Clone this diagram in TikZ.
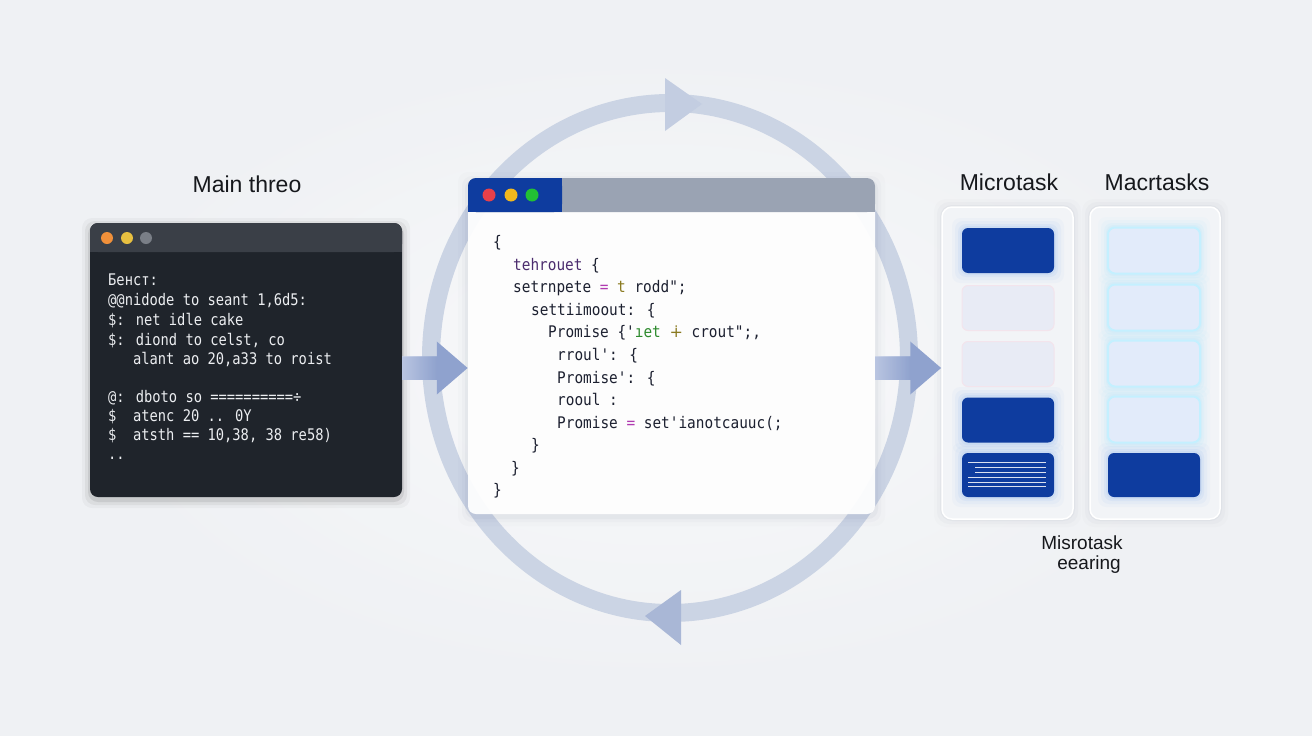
\documentclass[tikz,border=0pt]{standalone}
\usepackage{fontspec}
\setmainfont{Liberation Sans}
\newfontfamily\codefont[FakeStretch=0.9,Ligatures=TeXOff]{DejaVu Sans Mono}
\newfontfamily\termfont[FakeStretch=0.86,Ligatures=TeXOff]{DejaVu Sans Mono}
\newfontfamily\symfont{DejaVu Sans}
\usetikzlibrary{arrows.meta,calc}
\definecolor{bg}{HTML}{EFF1F4}
\definecolor{ringc}{HTML}{CBD4E4}
\definecolor{ringhead}{HTML}{C3CDE1}
\definecolor{ringhead2}{HTML}{A9B7D6}
\definecolor{flowc}{HTML}{8FA2CE}
\definecolor{flowlight}{HTML}{C4CEE6}
\definecolor{termbody}{HTML}{1F242B}
\definecolor{termbar}{HTML}{3A3F47}
\definecolor{termtext}{HTML}{ECEEF1}
\definecolor{dotorange}{HTML}{F0903A}
\definecolor{dotyellow}{HTML}{E8C040}
\definecolor{dotgrey}{HTML}{7A7F87}
\definecolor{dotred}{HTML}{E8404A}
\definecolor{dotyel2}{HTML}{F2B81E}
\definecolor{dotgreen}{HTML}{22C034}
\definecolor{shadowc}{HTML}{5A6A8A}
\definecolor{darkblue}{HTML}{0E3C9F}
\definecolor{wingrey}{HTML}{9AA3B3}
\definecolor{codetext}{HTML}{1C2030}
\definecolor{kw}{HTML}{4B2C6E}
\definecolor{op}{HTML}{B03AB0}
\definecolor{ol}{HTML}{8A7A20}
\definecolor{gr}{HTML}{2E8B2E}
\definecolor{titlec}{HTML}{16181C}
\definecolor{panelc}{HTML}{F2F4F7}
\definecolor{lightitem}{HTML}{E8EBF5}
\definecolor{cyanitem}{HTML}{E2EBFA}
\definecolor{cyanedge}{HTML}{C4F0FF}
\definecolor{glowblue}{HTML}{8DB6F2}
\definecolor{glowcyan}{HTML}{A8E4FF}
\definecolor{pinkedge}{HTML}{F3E4EC}
\newcommand{\myglow}[5]{%
  \foreach \e/\o in {10/0.05,7/0.08,4/0.12,2/0.15}{%
    \fill[#5,opacity=\o,rounded corners=8pt] (#1-\e,#2-\e) rectangle (#3+\e,#4+\e);}}
\tikzset{
  lbl/.style={font=\fontsize{23}{27}\selectfont, text=titlec, inner sep=0},
  lblsmall/.style={font=\fontsize{19}{23}\selectfont, text=titlec, inner sep=0},
  termline/.style={font=\termfont\fontsize{16}{18}\selectfont, text=termtext, anchor=base west, inner sep=0},
  codeline/.style={font=\codefont\fontsize{16}{18}\selectfont, text=codetext, anchor=base west, inner sep=0},
  panel/.style={fill=panelc, draw=white, line width=1.5pt, rounded corners=10pt, inner sep=0},
  darkitem/.style={fill=darkblue, rounded corners=6pt, inner sep=0, minimum width=92pt, minimum height=45pt},
  lightbox/.style={fill=lightitem, draw=pinkedge, line width=1pt, rounded corners=6pt, inner sep=0, minimum width=92pt, minimum height=45pt},
  cyanbox/.style={fill=cyanitem, draw=cyanedge, line width=2pt, rounded corners=7pt, inner sep=0, minimum width=92pt, minimum height=46pt},
  flow/.style={draw=flowc, line width=23pt, -{Triangle[width=51pt,length=31pt]}},
}
\begin{document}
\begin{tikzpicture}[x=1pt,y=-1pt]
\useasboundingbox (0,0) rectangle (1312,736);
\fill[bg] (0,0) rectangle (1312,736);
\shade[inner color=white, outer color=bg, opacity=0.6] (656,368) ellipse [x radius=600, y radius=330];

% ring
\draw[ringc, line width=18pt] (670,358) ellipse [x radius=239, y radius=255];
\fill[ringhead] (665,78) -- (702,104) -- (665,131) -- cycle;
\fill[ringhead2] (681,590) -- (645,616) -- (681,645) -- cycle;

% terminal
\foreach \e/\o in {8/0.03,5/0.05,2/0.08}{\fill[black,opacity=\o,rounded corners=10pt] (90-\e,226-\e) rectangle (402+\e,500+\e);}
\node[fill=termbody, rounded corners=8pt, minimum width=312pt, minimum height=274pt, inner sep=0] (term) at (246,360) {};
\fill[termbar, rounded corners=8pt] (90,223) rectangle (402,252);
\fill[termbar] (90,240) rectangle (402,252);
\fill[dotorange] (107,238) circle (6);
\fill[dotyellow] (127,238) circle (6);
\fill[dotgrey] (146,238) circle (6);
\node[lbl] (mainlbl) at (247,184) {Main threo};
\node[termline] (t1) at (108,285) {Бенст:};
\node[termline] (t2) at (108,305) {@@nidode to seant 1,6d5:};
\node[termline] (t3) at (108,325) {\$: net idle cake};
\node[termline] (t4) at (108,345) {\$: diond to celst, co};
\node[termline] (t5) at (108,364) {\ \ \ alant ao 20,a33 to roist};
\node[termline] (t6) at (108,402) {@: dboto so ==========÷};
\node[termline] (t7) at (108,421) {\$\ \ atenc 20 .. 0Y};
\node[termline] (t8) at (108,440) {\$\ \ atsth == 10,38, 38 re58)};
\node[termline] (t9) at (108,459) {..};

% center window
\foreach \e/\o in {10/0.02,6/0.03,3/0.05}{\fill[shadowc,opacity=\o,rounded corners=10pt] (468-\e,182-\e) rectangle (875+\e,516+\e);}
\node[fill=white, fill opacity=0.93, rounded corners=8pt, minimum width=407pt, minimum height=336pt, inner sep=0] (win) at (671.5,346) {};
\fill[wingrey, rounded corners=8pt] (468,178) rectangle (875,212);
\fill[wingrey] (468,196) rectangle (875,212);
\fill[darkblue, rounded corners=8pt] (468,178) rectangle (562,212);
\fill[darkblue] (468,196) rectangle (562,212);
\fill[darkblue] (540,178) rectangle (562,212);
\fill[dotred] (489,195) circle (6.5);
\fill[dotyel2] (511,195) circle (6.5);
\fill[dotgreen] (532,195) circle (6.5);
\node[codeline] (c1) at (493,247) {\{};
\node[codeline] (c2) at (513,270) {\textcolor{kw}{tehrouet} \{};
\node[codeline] (c3) at (513,292) {setrnpete \textcolor{op}{=} \textcolor{ol}{t} rodd";};
\node[codeline] (c4) at (531,315) {settiimoout: \{};
\node[codeline] (c5) at (548,337) {Promise \{'\textcolor{gr}{ıet} \textcolor{ol}{\symfont ∔} crout";,};
\node[codeline] (c6) at (557,360) {rroul': \{};
\node[codeline] (c7) at (557,383) {Promise': \{};
\node[codeline] (c8) at (557,405) {rooul :};
\node[codeline] (c9) at (557,428) {Promise \textcolor{op}{=} set'ianotcauuc(;};
\node[codeline] (c10) at (531,450) {\}};
\node[codeline] (c11) at (511,473) {\}};
\node[codeline] (c12) at (493,495) {\}};

% panels
\foreach \e/\o in {8/0.02,5/0.03,2/0.05}{\fill[shadowc,opacity=\o,rounded corners=12pt] (942-\e,207-\e) rectangle (1073+\e,519+\e);
  \fill[shadowc,opacity=\o,rounded corners=12pt] (1090-\e,207-\e) rectangle (1220+\e,519+\e);}
\node[panel, minimum width=131pt, minimum height=312pt] (micro) at (1007.5,363) {};
\node[panel, minimum width=130pt, minimum height=312pt] (macro) at (1155,363) {};
\node[lbl] (microlbl) at (1009,182) {Microtask};
\node[lbl] (macrolbl) at (1157,182) {Macrtasks};

% micro items
\myglow{962}{228}{1054}{273}{glowblue}
\myglow{962}{397}{1054}{443}{glowblue}
\myglow{962}{453}{1054}{497}{glowblue}
\node[darkitem] (m1) at (1008,250.5) {};
\node[lightbox] (m2) at (1008,308) {};
\node[lightbox] (m3) at (1008,364) {};
\node[darkitem] (m4) at (1008,420) {};
\node[darkitem, minimum height=44pt] (m5) at (1008,475) {};
\foreach \yy/\xs in {462/968,467/975,472/975,477/968,482/968,486/968}{\draw[white, opacity=0.85, line width=0.9pt] (\xs,\yy) -- (1046,\yy);}

% macro items
\myglow{1108}{227}{1200}{274}{glowcyan}
\myglow{1108}{284}{1200}{331}{glowcyan}
\myglow{1108}{340}{1200}{387}{glowcyan}
\myglow{1108}{396}{1200}{443}{glowcyan}
\myglow{1108}{453}{1200}{497}{glowblue}
\node[cyanbox] (q1) at (1154,250.5) {};
\node[cyanbox] (q2) at (1154,307.5) {};
\node[cyanbox] (q3) at (1154,363.5) {};
\node[cyanbox] (q4) at (1154,419.5) {};
\node[darkitem, minimum height=44pt] (q5) at (1154,475) {};

\node[lblsmall, anchor=base] (ms1) at (1082,549) {Misrotask};
\node[lblsmall, anchor=base] (ms2) at (1089,569) {eearing};

% flow arrows
\coordinate (flowy) at (0,368);
\draw[flow] (term.east |- flowy) -- (win.west |- flowy);
\draw[flow] (win.east |- flowy) -- (micro.west |- flowy);
\shade[left color=flowlight, right color=flowc, opacity=0.8] (term.east |- 0,356.5) rectangle (437,379.5);
\shade[left color=flowlight, right color=flowc, opacity=0.8] (win.east |- 0,356.5) rectangle (911,379.5);
\end{tikzpicture}
\end{document}
